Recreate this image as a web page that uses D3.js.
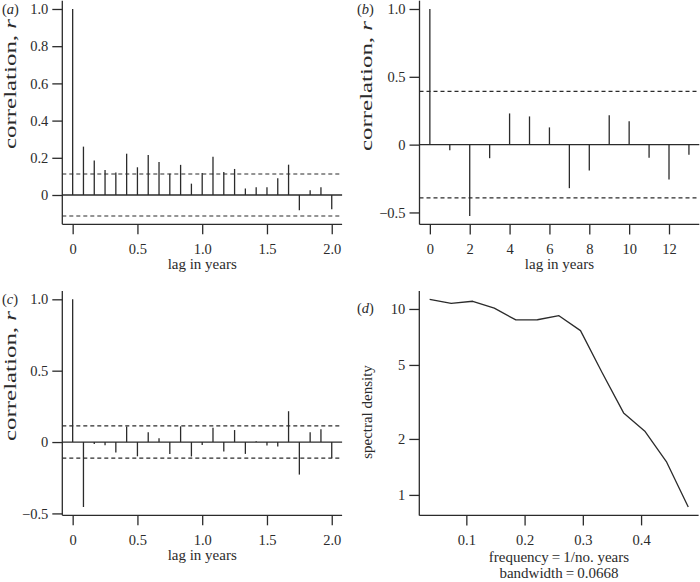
<!DOCTYPE html>
<html>
<head>
<meta charset="utf-8">
<script src="https://cdn.jsdelivr.net/npm/d3@7"></script>
<style>
  html, body { margin: 0; padding: 0; background: #fff; }
  svg text { font-family: 'Liberation Serif', 'Times New Roman', serif; fill: #2b2b2b; }
</style>
</head>
<body>
<svg id="chart" width="700" height="582"></svg>
<script>
// ---------------- data ----------------
// (a) monthly ACF, lag in years
const lagsA = [0, 0.0833, 0.1667, 0.25, 0.3333, 0.4167, 0.5, 0.5833, 0.6667, 0.75, 0.8333, 0.9167, 1.0,
               1.0833, 1.1667, 1.25, 1.3333, 1.4167, 1.5, 1.5833, 1.6667, 1.75, 1.8333, 1.9167, 2.0];
const acfA = [1.0, 0.26, 0.186, 0.134, 0.121, 0.222, 0.149, 0.215, 0.178, 0.114, 0.162, 0.061, 0.118,
              0.205, 0.124, 0.14, 0.035, 0.041, 0.042, 0.09, 0.163, -0.082, 0.026, 0.042, -0.077];
const ciA = 0.113;

// (b) annual ACF
const lagsB = [0, 1, 2, 3, 4, 5, 6, 7, 8, 9, 10, 11, 12, 13];
const acfB = [1.0, -0.042, -0.527, -0.1, 0.23, 0.208, 0.127, -0.321, -0.191, 0.216, 0.172, -0.096, -0.257, -0.074];
const ciB = 0.392;

// (c) monthly ACF (second series)
const lagsC = lagsA;
const acfC = [1.0, -0.455, -0.014, -0.023, -0.074, 0.109, -0.1, 0.068, 0.026, -0.083, 0.11, -0.101, -0.02,
              0.1, -0.067, 0.084, -0.083, 0.006, -0.025, -0.031, 0.216, -0.228, 0.068, 0.089, -0.111];
const ciC = 0.113;

// (d) spectrum
const freqD = [0.037, 0.074, 0.111, 0.148, 0.185, 0.222, 0.259, 0.296, 0.333, 0.370, 0.407, 0.444, 0.481];
const specD = [11.27, 10.73, 11.0, 10.1, 8.73, 8.75, 9.2, 7.65, 4.55, 2.76, 2.19, 1.50, 0.86];

// tick values / labels
const xTicksMonthly = [0, 0.5, 1.0, 1.5, 2.0];
const xTickLabelsMonthly = ["0", "0.5", "1.0", "1.5", "2.0"];
const yTicksA = [0, 0.2, 0.4, 0.6, 0.8, 1.0];
const yTickLabelsA = ["0", "0.2", "0.4", "0.6", "0.8", "1.0"];
const xTicksB = [0, 2, 4, 6, 8, 10, 12];
const xTickLabelsB = ["0", "2", "4", "6", "8", "10", "12"];
const yTicksBC = [-0.5, 0, 0.5, 1.0];
const yTickLabelsBC = ["\u22120.5", "0", "0.5", "1.0"];
const xTicksD = [0.1, 0.2, 0.3, 0.4];
const xTickLabelsD = ["0.1", "0.2", "0.3", "0.4"];
const yTicksD = [1, 2, 5, 10];
const yTickLabelsD = ["1", "2", "5", "10"];

// ---------------- layout ----------------
const svg = d3.select("#chart");
const INK = "#2b2b2b";
const FS = 14.5;
const FT = 15;
const SERIF = "'Liberation Serif', 'Times New Roman', serif";
const rect = {
  a: {l: 62.3, r: 342.1, t: 0.7, b: 224.3},
  b: {l: 419.5, r: 699.3, t: 0.7, b: 224.4},
  c: {l: 62.3, r: 342.1, t: 291.0, b: 515.3},
  d: {l: 419.3, r: 698.6, t: 291.0, b: 515.4}
};
const ext = (lo, hi) => [lo - (hi - lo) * 0.04, hi + (hi - lo) * 0.04];

function axes(g, R, x, y, xt, xtl, yt, ytl) {
  g.append("line").attr("x1", R.l).attr("x2", R.l).attr("y1", R.t).attr("y2", R.b)
    .attr("stroke", INK).attr("stroke-width", 1.3);
  g.append("line").attr("x1", R.l).attr("x2", R.r).attr("y1", R.b).attr("y2", R.b)
    .attr("stroke", INK).attr("stroke-width", 1.3);
  const xa = d3.axisBottom(x).tickValues(xt).tickFormat((d, i) => xtl[i]).tickSize(10).tickPadding(4);
  const gx = g.append("g").attr("transform", `translate(0,${R.b})`).call(xa);
  gx.select(".domain").remove();
  gx.selectAll(".tick line").attr("stroke", INK).attr("stroke-width", 1.3);
  gx.selectAll(".tick text").attr("font-size", FS).attr("fill", INK)
    .attr("font-family", SERIF).attr("dy", "1.05em");
  const ya = d3.axisLeft(y).tickValues(yt).tickFormat((d, i) => ytl[i]).tickSize(10).tickPadding(4);
  const gy = g.append("g").attr("transform", `translate(${R.l},0)`).call(ya);
  gy.select(".domain").remove();
  gy.selectAll(".tick line").attr("stroke", INK).attr("stroke-width", 1.3);
  gy.selectAll(".tick text").attr("font-size", FS).attr("fill", INK).attr("font-family", SERIF);
}

function panelLabel(x, y, letter) {
  const t = svg.append("text").attr("x", x).attr("y", y).attr("font-size", FS);
  t.append("tspan").text("(");
  t.append("tspan").attr("font-style", "italic").text(letter);
  t.append("tspan").text(")");
}

function ylabel(cx, cy, parts, fs, len) {
  const t = svg.append("text").attr("transform", `translate(${cx},${cy}) rotate(-90)`)
    .attr("text-anchor", "middle").attr("dy", "0.32em").attr("font-size", fs);
  if (len) t.attr("textLength", len).attr("lengthAdjust", "spacingAndGlyphs");
  parts.forEach(p => t.append("tspan").attr("font-style", p.italic ? "italic" : null).text(p.s));
  return t;
}

function xlabel(cx, y, s) {
  svg.append("text").attr("x", cx).attr("y", y).attr("text-anchor", "middle")
    .attr("font-size", FT).text(s);
}

function acfPanel(R, lags, vals, ci, xt, xtl, yt, ytl) {
  const g = svg.append("g");
  const x = d3.scaleLinear().domain(ext(d3.min(lags), d3.max(lags))).range([R.l, R.r]);
  const y = d3.scaleLinear().domain(ext(Math.min(d3.min(vals), -ci), Math.max(d3.max(vals), ci))).range([R.b, R.t]);
  axes(g, R, x, y, xt, xtl, yt, ytl);
  g.append("line").attr("x1", R.l).attr("x2", R.r).attr("y1", y(0)).attr("y2", y(0))
    .attr("stroke", INK).attr("stroke-width", 1.3);
  [ci, -ci].forEach(c => g.append("line").attr("x1", R.l).attr("x2", R.r)
    .attr("y1", y(c)).attr("y2", y(c)).attr("stroke", INK).attr("stroke-width", 1.2)
    .attr("stroke-dasharray", "4,3"));
  g.selectAll("line.bar").data(lags.map((l, i) => [l, vals[i]])).join("line").attr("class", "bar")
    .attr("x1", d => x(d[0])).attr("x2", d => x(d[0]))
    .attr("y1", y(0)).attr("y2", d => y(d[1]))
    .attr("stroke", INK).attr("stroke-width", 1.3);
  return {x, y};
}

const corrLabel = [{s: "correlation, "}, {s: "r", italic: true}];
const CFS = 17, CLEN = 130;

// (a)
acfPanel(rect.a, lagsA, acfA, ciA, xTicksMonthly, xTickLabelsMonthly, yTicksA, yTickLabelsA);
panelLabel(2, 14, "a");
ylabel(11, 84, corrLabel, CFS, CLEN);
xlabel((rect.a.l + rect.a.r) / 2, 268.5, "lag in years");

// (b)
acfPanel(rect.b, lagsB, acfB, ciB, xTicksB, xTickLabelsB, yTicksBC, yTickLabelsBC);
panelLabel(357, 14, "b");
ylabel(367, 86, corrLabel, CFS, CLEN);
xlabel((rect.b.l + rect.b.r) / 2, 268.5, "lag in years");

// (c)
acfPanel(rect.c, lagsC, acfC, ciC, xTicksMonthly, xTickLabelsMonthly, yTicksBC, yTickLabelsBC);
panelLabel(2, 304, "c");
ylabel(11, 376, corrLabel, CFS, CLEN);
xlabel((rect.c.l + rect.c.r) / 2, 559.5, "lag in years");

// (d)
(function () {
  const R = rect.d;
  const g = svg.append("g");
  const x = d3.scaleLinear().domain(ext(d3.min(freqD), d3.max(freqD))).range([R.l, R.r]);
  const ld = ext(Math.log10(d3.min(specD)), Math.log10(d3.max(specD)));
  const y = d3.scaleLog().domain([Math.pow(10, ld[0]), Math.pow(10, ld[1])]).range([R.b, R.t]);
  axes(g, R, x, y, xTicksD, xTickLabelsD, yTicksD, yTickLabelsD);
  const line = d3.line().x((d, i) => x(freqD[i])).y(d => y(d));
  g.append("path").datum(specD).attr("d", line).attr("fill", "none")
    .attr("stroke", INK).attr("stroke-width", 1.3).attr("stroke-linejoin", "round");
  panelLabel(357, 313, "d");
  ylabel(367, 412, [{s: "spectral density"}], FT, null);
  const cx = (R.l + R.r) / 2;
  xlabel(cx, 562, "frequency\u2009=\u20091/no. years");
  xlabel(cx, 578, "bandwidth\u2009=\u20090.0668");
})();
</script>
</body>
</html>
